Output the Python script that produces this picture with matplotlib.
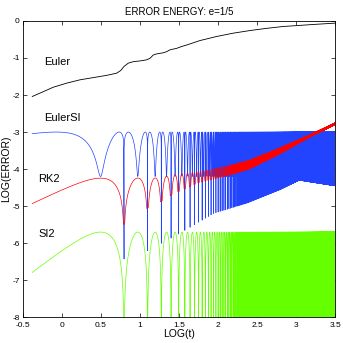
import numpy as np
import matplotlib
matplotlib.use("Agg")
import matplotlib.pyplot as plt
from matplotlib.ticker import FuncFormatter

# Euler (black)
euler_lx = [-0.377, -0.236, -0.108, 0.063, 0.234, 0.404, 0.575, 0.704, 0.755, 0.797,
            0.852, 0.916, 1.002, 1.088, 1.130, 1.172, 1.216, 1.300, 1.344, 1.386,
            1.472, 1.536, 1.600, 1.770, 1.984, 2.197, 2.410, 2.624, 2.837, 3.050,
            3.264, 3.500]
euler_val = [-2.04, -1.91, -1.79, -1.68, -1.59, -1.53, -1.47, -1.41, -1.34, -1.23,
             -1.14, -1.10, -1.08, -1.05, -1.01, -0.92, -0.89, -0.86, -0.83, -0.78,
             -0.74, -0.69, -0.65, -0.53, -0.42, -0.33, -0.26, -0.20, -0.15, -0.12,
             -0.09, -0.06]

# EulerSI (blue): peak level, level of the shallow dips, floor of the deep dips
blue_peak = -3.0
blue_shallow = -4.2
blue_floor_lx = [0.79, 1.10, 1.50, 1.94, 2.37, 2.80, 3.04, 3.50]
blue_floor_val = [-6.5, -6.2, -5.75, -5.2, -4.92, -4.55, -4.3, -4.45]

# RK2 (red): upper envelope and floor of the dips
red_top_lx = [-0.4, 1.2, 1.5, 1.8, 2.1, 2.4, 2.78, 3.17, 3.5]
red_top_val = [-4.25, -4.24, -4.14, -4.05, -3.92, -3.76, -3.44, -3.08, -2.75]
red_floor_lx = [0.79, 1.10, 1.27, 1.40, 1.50, 1.63, 1.76, 2.15, 2.40, 2.78, 3.17, 3.50]
red_floor_val = [-5.5, -5.05, -4.88, -4.7, -4.6, -4.48, -4.36, -4.16, -4.0, -3.6, -3.14, -2.8]

# SI2 (green)
green_peak = -5.7

plt.rcParams["font.family"] = ["Liberation Sans", "DejaVu Sans"]
plt.rcParams["axes.unicode_minus"] = False
plt.rcParams["path.simplify"] = False

# time samples (the curves oscillate with period 2*pi in t)
t_early = np.logspace(euler_lx[0], np.log10(4.0), 1500)
t_late = np.arange(4.0, 10 ** 3.5, 0.1)
t_nodes = 2 * np.pi * np.arange(1, 504)
t = np.unique(np.concatenate([t_early, t_late, t_nodes]))
t = t[t <= 10 ** 3.5]
lx = np.log10(t)
th = t / 2
s = np.abs(np.sin(th)) + 1e-12


def blue_shape(x, b):
    return 0.3 * np.log10(np.abs(np.sin(x)) + 1e-12) + 0.75 * np.log10(np.cos(x) ** 2 + b ** 2)


grid = np.linspace(1e-4, np.pi - 1e-4, 20001)
b = 0.1
for _ in range(30):
    m = blue_shape(grid, b).max()
    b = 10 ** ((blue_shallow - blue_peak + m) / 1.5)
m = blue_shape(grid, b).max()

blue = blue_peak + blue_shape(th, b) - m
blue = np.maximum(blue, np.interp(lx, blue_floor_lx, blue_floor_val))

red = np.interp(lx, red_top_lx, red_top_val) + np.log10(s)
red = np.maximum(red, np.interp(lx, red_floor_lx, red_floor_val))

green = np.maximum(green_peak + 1.6 * np.log10(s), -9.5)

fig = plt.figure(figsize=(3.43, 3.43), dpi=100)
ax = fig.add_axes([0.066, 0.075, 0.911, 0.864])

ax.plot(lx, green, color="#66ff00", lw=0.5)
ax.plot(lx, blue, color="#2244ff", lw=0.5)
ax.plot(lx, red, color="#ff0000", lw=0.5)
ax.plot(euler_lx, euler_val, color="black", lw=0.6)

ax.text(-0.22, -1.12, "Euler", fontsize=8, va="center")
ax.text(-0.23, -2.62, "EulerSI", fontsize=8, va="center")
ax.text(-0.30, -4.27, "RK2", fontsize=8, va="center")
ax.text(-0.30, -5.76, "SI2", fontsize=8, va="center")

ax.set_xlim(-0.5, 3.5)
ax.set_ylim(-8, 0)
ax.set_xticks(np.arange(-0.5, 3.6, 0.5))
ax.set_yticks(np.arange(-8, 1, 1))
ax.xaxis.set_major_formatter(FuncFormatter(lambda v, p: "%g" % v))
ax.yaxis.set_major_formatter(FuncFormatter(lambda v, p: "%g" % v))
ax.tick_params(direction="in", top=True, right=True, length=3, width=0.5,
               labelsize=6)
ax.tick_params(axis="x", pad=3.5)
ax.tick_params(axis="y", pad=2)
for sp in ax.spines.values():
    sp.set_linewidth(0.6)

ax.set_title("ERROR ENERGY: e=1/5", fontsize=7, pad=4)
ax.set_xlabel("LOG(t)", fontsize=7.5, labelpad=0)
ax.set_ylabel("LOG(ERROR)", fontsize=7.5, labelpad=1)

fig.savefig("out.png", dpi=100)
